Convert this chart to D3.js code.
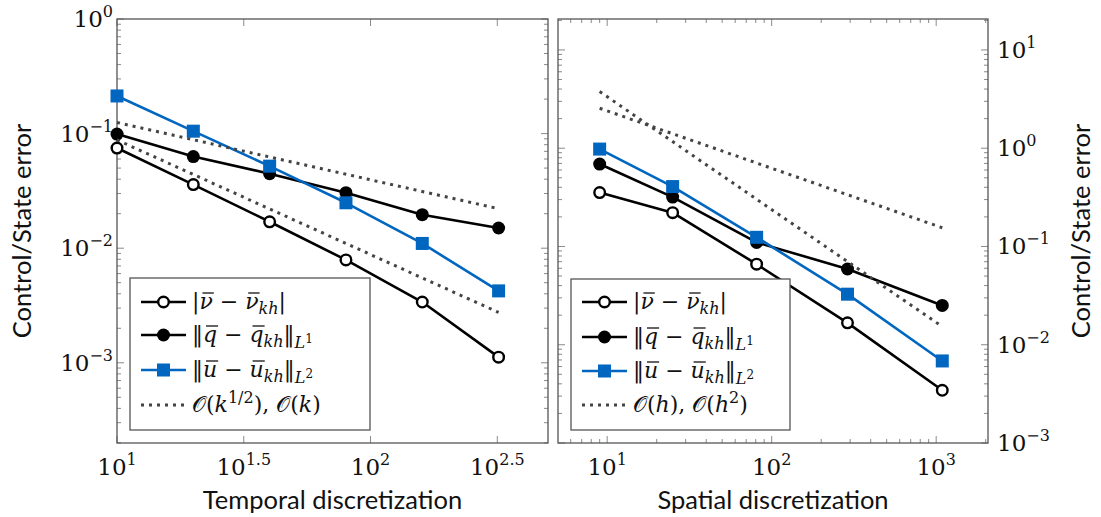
<!DOCTYPE html>
<html lang="en">
<head>
<meta charset="UTF-8">
<title>Control/State error</title>
<style>
  html, body { margin: 0; padding: 0; background: #fff; }
  svg { display: block; }
</style>
</head>
<body>
<div id="chart"></div>
<script src="https://cdn.jsdelivr.net/npm/d3@7"></script>
<script>
// temporal discretization (left panel)
const timeSteps = [10, 20, 40, 80, 160, 320];
const timeNu = [0.0748, 0.0359, 0.017, 0.0079, 0.00339, 0.00112];
const timeQ = [0.099, 0.063, 0.0447, 0.0305, 0.0196, 0.015];
const timeU = [0.213, 0.105, 0.052, 0.0249, 0.011, 0.00424];
const timeRefX = [10, 320];
const timeRefHalf = [0.125, 0.0221];
const timeRefOne = [0.088, 0.00275];
const timeTicks = [1, 1.5, 2, 2.5];          // exponents
const timeErrTicks = [0, -1, -2, -3];

// spatial discretization (right panel)
const spaceDofs = [9, 25, 81, 289, 1089];
const spaceNu = [0.354, 0.221, 0.066, 0.0167, 0.00344];
const spaceQ = [0.69, 0.318, 0.11, 0.059, 0.0251];
const spaceU = [0.98, 0.407, 0.124, 0.0327, 0.00684];
const spaceRefX = [9, 1089];
const spaceRefH = [2.55, 0.155];
const spaceRefH2 = [3.77, 0.0153];
const spaceTicks = [1, 2, 3];
const spaceErrTicks = [1, 0, -1, -2, -3];

const W = 1101, H = 517;
const BLUE = '#0066bf';
const SERIF = "'DejaVu Serif', 'Liberation Serif', serif";
const SANS = "Lato, 'Open Sans', sans-serif";
const svg = d3.select('#chart').append('svg').attr('width', W).attr('height', H);
svg.append('rect').attr('width', W).attr('height', H).attr('fill', '#fff');

const fmtExp = e => String(e).replace('-', '\u2212');

// label like 10^e
function powLabel(g, x, y, e, anchor) {
  const t = g.append('text').attr('font-family', SERIF).attr('font-size', 23).attr('fill', '#111')
    .attr('x', x).attr('y', y).attr('text-anchor', anchor);
  t.append('tspan').text('10');
  t.append('tspan').attr('dy', -10).attr('font-size', 16).text(fmtExp(e));
  return t;
}

// math text made of pieces: [text, shift, size, italic, bar]
function mathText(g, x, y, parts) {
  const t = g.append('text').attr('font-family', SERIF).attr('font-size', 22)
    .attr('fill', '#111').attr('x', x).attr('y', y);
  let cur = 0, idx = 0;
  const bars = [];
  parts.forEach(p => {
    const [s, shift, size, it, bar] = p;
    t.append('tspan')
      .attr('dy', shift - cur)
      .attr('font-size', size || 22)
      .attr('font-style', it ? 'italic' : 'normal')
      .text(s);
    if (bar) bars.push(idx);
    idx += s.length;
    cur = shift;
  });
  bars.forEach(i => {
    const r = t.node().getExtentOfChar(i);
    g.append('line').attr('x1', r.x + 3).attr('x2', r.x + r.width + 1)
      .attr('y1', y - 16).attr('y2', y - 16)
      .attr('stroke', '#111').attr('stroke-width', 1.3);
  });
}

function panel(opt) {
  const g = svg.append('g');
  const x = d3.scaleLog().domain(opt.xDomain).range(opt.xRange);
  const y = d3.scaleLog().domain(opt.yDomain).range(opt.yRange);
  const [x0, x1] = opt.xRange, [y1, y0] = opt.yRange;

  // ticks
  const tk = g.append('g').attr('stroke', '#8a8a8a').attr('stroke-width', 1);
  const yMajor = opt.yTicks.map(e => Math.pow(10, e));
  const yMinor = [];
  d3.range(-4, 2).forEach(e => d3.range(2, 10).forEach(m => {
    const v = m * Math.pow(10, e);
    if (v > opt.yDomain[0] && v < opt.yDomain[1]) yMinor.push(v);
  }));
  [[x0, 1], [x1, -1]].forEach(([xe, dir]) => {
    tk.selectAll(null).data(yMajor).enter().append('line')
      .attr('x1', xe).attr('x2', xe + dir * 7)
      .attr('y1', d => y(d)).attr('y2', d => y(d));
    tk.selectAll(null).data(yMinor).enter().append('line')
      .attr('x1', xe).attr('x2', xe + dir * 4)
      .attr('y1', d => y(d)).attr('y2', d => y(d));
  });
  const xMajor = opt.xTicks.map(e => Math.pow(10, e));
  const xMinor = [];
  if (opt.xMinor) {
    d3.range(0, 4).forEach(e => d3.range(2, 10).forEach(m => {
      const v = m * Math.pow(10, e);
      if (v > opt.xDomain[0] && v < opt.xDomain[1]) xMinor.push(v);
    }));
  }
  [[y0, 1], [y1, -1]].forEach(([ye, dir]) => {
    tk.selectAll(null).data(xMajor).enter().append('line')
      .attr('y1', ye).attr('y2', ye + dir * 7)
      .attr('x1', d => x(d)).attr('x2', d => x(d));
    tk.selectAll(null).data(xMinor).enter().append('line')
      .attr('y1', ye).attr('y2', ye + dir * 4)
      .attr('x1', d => x(d)).attr('x2', d => x(d));
  });

  // frame
  g.append('rect').attr('x', x0).attr('y', y0).attr('width', x1 - x0).attr('height', y1 - y0)
    .attr('fill', 'none').attr('stroke', '#555').attr('stroke-width', 1.3);

  // tick labels
  opt.xTicks.forEach(e => powLabel(g, x(Math.pow(10, e)), y1 + 32, e, 'middle'));
  opt.yTicks.forEach(e => {
    if (opt.ySide === 'left') powLabel(g, x0 - 4, y(Math.pow(10, e)) + 8, e, 'end');
    else powLabel(g, x1 + 9, y(Math.pow(10, e)) + 8, e, 'start');
  });

  // titles
  g.append('text').attr('font-family', SANS).attr('font-size', 25.5).attr('fill', '#111')
    .attr('text-anchor', 'middle')
    .attr('x', (x0 + x1) / 2).attr('y', 509).text(opt.xTitle);
  g.append('text').attr('font-family', SANS).attr('font-size', 25.5).attr('fill', '#111')
    .attr('text-anchor', 'middle')
    .attr('transform', `translate(${opt.yTitleX},${(y0 + y1) / 2}) rotate(-90)`)
    .text('Control/State error');

  // series
  const line = d3.line().x(d => x(d[0])).y(d => y(d[1]));
  const zip = (a, b) => a.map((v, i) => [v, b[i]]);
  const drawSeries = (vals, color, marker) => {
    const pts = zip(opt.xs, vals);
    g.append('path').datum(pts).attr('d', line)
      .attr('fill', 'none').attr('stroke', color).attr('stroke-width', 2.6)
      .attr('stroke-linejoin', 'round');
    const m = g.append('g');
    if (marker === 'open') {
      m.selectAll('circle').data(pts).enter().append('circle')
        .attr('cx', d => x(d[0])).attr('cy', d => y(d[1])).attr('r', 5.3)
        .attr('fill', '#fff').attr('stroke', color).attr('stroke-width', 2.4);
    } else if (marker === 'dot') {
      m.selectAll('circle').data(pts).enter().append('circle')
        .attr('cx', d => x(d[0])).attr('cy', d => y(d[1])).attr('r', 6.5)
        .attr('fill', color);
    } else {
      m.selectAll('rect').data(pts).enter().append('rect')
        .attr('x', d => x(d[0]) - 6.5).attr('y', d => y(d[1]) - 6.5)
        .attr('width', 13).attr('height', 13).attr('fill', color);
    }
  };
  drawSeries(opt.nu, '#000', 'open');
  drawSeries(opt.q, '#000', 'dot');
  drawSeries(opt.u, BLUE, 'square');
  opt.refs.forEach(r => {
    g.append('path').datum(zip(opt.refX, r)).attr('d', line)
      .attr('fill', 'none').attr('stroke', '#444').attr('stroke-width', 3)
      .attr('stroke-dasharray', '3 5');
  });

  // legend
  const L = opt.legend;
  const lg = g.append('g');
  lg.append('rect').attr('x', L.x).attr('y', L.y).attr('width', L.w).attr('height', L.h)
    .attr('fill', '#fff').attr('stroke', '#555').attr('stroke-width', 1.3);
  const rows = L.rows;
  const sx0 = L.x + 11, sx1 = L.x + 56, tx = L.x + 62;
  rows.forEach((ry, i) => {
    const cx = (sx0 + sx1) / 2;
    if (i < 3) {
      const col = i === 2 ? BLUE : '#000';
      lg.append('line').attr('x1', sx0).attr('x2', sx1).attr('y1', ry).attr('y2', ry)
        .attr('stroke', col).attr('stroke-width', 2.6);
      if (i === 0) lg.append('circle').attr('cx', cx).attr('cy', ry).attr('r', 5.3)
        .attr('fill', '#fff').attr('stroke', '#000').attr('stroke-width', 2.4);
      if (i === 1) lg.append('circle').attr('cx', cx).attr('cy', ry).attr('r', 6.5).attr('fill', '#000');
      if (i === 2) lg.append('rect').attr('x', cx - 6.5).attr('y', ry - 6.5)
        .attr('width', 13).attr('height', 13).attr('fill', BLUE);
    } else {
      lg.append('line').attr('x1', sx0).attr('x2', sx1).attr('y1', ry).attr('y2', ry)
        .attr('stroke', '#444').attr('stroke-width', 3).attr('stroke-dasharray', '3 5');
    }
  });
  const b = 7;
  mathText(lg, tx, rows[0] + b, [['|', 0], ['\u03bd', 0, 22, true, true], [' \u2212 ', 0],
    ['\u03bd', 0, 22, true, true], ['kh', 5, 16, true], ['|', 0]]);
  mathText(lg, tx, rows[1] + b, [['\u2016', 0], ['q', 0, 22, true, true], [' \u2212 ', 0],
    ['q', 0, 22, true, true], ['kh', 5, 16, true], ['\u2016', 0], ['L', 6, 16, true], ['1', 1, 12]]);
  mathText(lg, tx, rows[2] + b, [['\u2016', 0], ['u', 0, 22, true, true], [' \u2212 ', 0],
    ['u', 0, 22, true, true], ['kh', 5, 16, true], ['\u2016', 0], ['L', 6, 16, true], ['2', 1, 12]]);
  mathText(lg, tx, rows[3] + b, L.refLabel);
}

panel({
  xDomain: [10, Math.pow(10, 2.7)], xRange: [117, 548],
  yDomain: [Math.pow(10, -3.7), 1], yRange: [443, 19],
  xTicks: timeTicks, yTicks: timeErrTicks, xMinor: false, ySide: 'left',
  xTitle: 'Temporal discretization', yTitleX: 31,
  xs: timeSteps, nu: timeNu, q: timeQ, u: timeU,
  refX: timeRefX, refs: [timeRefHalf, timeRefOne],
  legend: {
    x: 130, y: 278, w: 240, h: 152, rows: [302, 335, 370, 405],
    refLabel: [['\u{1D4AA}(', 0], ['k', 0, 22, true], ['1/2', -9, 16], ['), \u{1D4AA}(', 0],
      ['k', 0, 22, true], [')', 0]]
  }
});

panel({
  xDomain: [Math.pow(10, 0.701), Math.pow(10, 3.315)], xRange: [558, 988],
  yDomain: [1e-3, Math.pow(10, 1.315)], yRange: [443, 19],
  xTicks: spaceTicks, yTicks: spaceErrTicks, xMinor: true, ySide: 'right',
  xTitle: 'Spatial discretization', yTitleX: 1090,
  xs: spaceDofs, nu: spaceNu, q: spaceQ, u: spaceU,
  refX: spaceRefX, refs: [spaceRefH, spaceRefH2],
  legend: {
    x: 571, y: 279, w: 219, h: 151, rows: [302, 337, 371, 405],
    refLabel: [['\u{1D4AA}(', 0], ['h', 0, 22, true], ['), \u{1D4AA}(', 0],
      ['h', 0, 22, true], ['2', -9, 16], [')', 0]]
  }
});
</script>
</body>
</html>
